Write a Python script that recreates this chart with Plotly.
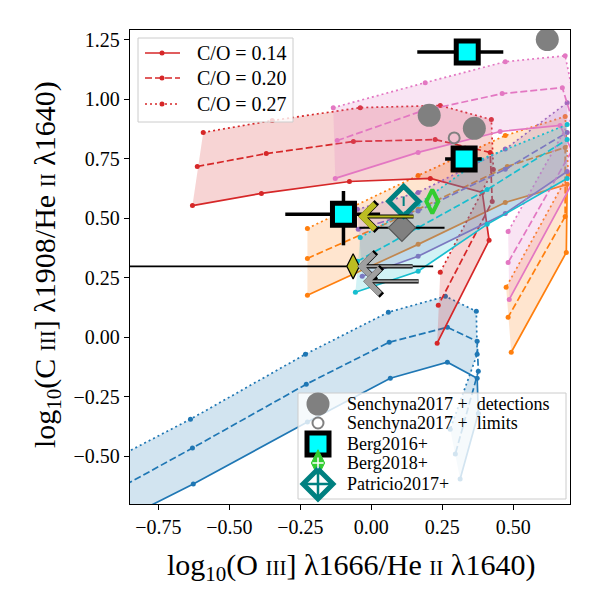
import plotly.graph_objects as go

# ---------------- model grids ----------------
# x = log10(OIII]1666/HeII1640), y = log10(CIII]1908/HeII1640)
# sol: C/O=0.14, dsh: C/O=0.20, dot: C/O=0.27
blue_sol_x = [-1.05, -0.627, -0.225, 0.067, 0.268, 0.373, 0.377, 0.313]
blue_sol_y = [-0.87, -0.616, -0.356, -0.172, -0.105, -0.172, -0.320, -0.595]
blue_dsh_x = [-1.05, -0.630, -0.229, 0.063, 0.268, 0.373, 0.377, 0.296]
blue_dsh_y = [-0.74, -0.465, -0.197, -0.021, 0.042, -0.017, -0.143, -0.490]
blue_dot_x = [-1.05, -0.637, -0.232, 0.060, 0.261, 0.370, 0.373, 0.278]
blue_dot_y = [-0.60, -0.344, -0.071, 0.105, 0.172, 0.109, -0.071, -0.386]

orange_sol_x = [-0.225, 0.165, 0.472, 0.690, 0.687, 0.493]
orange_sol_y = [0.176, 0.390, 0.566, 0.642, 0.356, -0.063]
orange_dsh_x = [-0.225, 0.165, 0.479, 0.683, 0.683, 0.482]
orange_dsh_y = [0.331, 0.537, 0.717, 0.797, 0.507, 0.084]
orange_dot_x = [-0.225, 0.165, 0.472, 0.683, 0.694, 0.475]
orange_dot_y = [0.457, 0.679, 0.847, 0.927, 0.683, 0.210]

red_sol_x = [-0.630, -0.387, -0.077, 0.208, 0.391, 0.415, 0.232]
red_sol_y = [0.553, 0.604, 0.654, 0.667, 0.608, 0.407, -0.025]
red_dsh_x = [-0.613, -0.370, -0.063, 0.225, 0.419, 0.426, 0.236]
red_dsh_y = [0.717, 0.771, 0.822, 0.830, 0.776, 0.570, 0.134]
red_dot_x = [-0.592, -0.349, -0.039, 0.243, 0.423, 0.430, 0.243]
red_dot_y = [0.860, 0.910, 0.964, 0.973, 0.914, 0.704, 0.273]

purple_sol_x = [-0.032, 0.165, 0.472, 0.690]
purple_sol_y = [0.256, 0.340, 0.520, 0.696]
purple_dsh_x = [-0.046, 0.165, 0.472, 0.690]
purple_dsh_y = [0.453, 0.530, 0.705, 0.860]
purple_dot_x = [-0.049, 0.165, 0.472, 0.690]
purple_dot_y = [0.537, 0.608, 0.790, 0.985]

pink_sol_x = [-0.127, 0.165, 0.454, 0.665, 0.736, 0.486]
pink_sol_y = [0.667, 0.776, 0.864, 0.889, 0.709, 0.159]
pink_dsh_x = [-0.120, 0.173, 0.461, 0.673, 0.729, 0.482]
pink_dsh_y = [0.826, 0.948, 1.023, 1.048, 0.830, 0.314]
pink_dot_x = [-0.134, 0.190, 0.472, 0.683, 0.722, 0.482]
pink_dot_y = [0.964, 1.069, 1.157, 1.182, 0.956, 0.444]

cyan_sol_x = [-0.056, 0.165, 0.408, 0.690]
cyan_sol_y = [0.189, 0.277, 0.474, 0.667]
cyan_dsh_x = [-0.049, 0.165, 0.408, 0.690]
cyan_dsh_y = [0.319, 0.461, 0.620, 0.830]
cyan_dot_x = [-0.039, 0.165, 0.384, 0.690]
cyan_dot_y = [0.419, 0.558, 0.746, 0.893]

# ---------------- observations ----------------
sen_det_x = [0.620, 0.204, 0.363]
sen_det_y = [1.250, 0.932, 0.877]
sen_lim_x = [0.292]
sen_lim_y = [0.837]

berg16_x = [0.338, 0.327, -0.098]
berg16_y = [1.198, 0.748, 0.516]
berg16_xerr_lo = [0.176, 0.067, 0.205]
berg16_xerr_hi = [0.127, 0.062, 0.129]
berg16_yerr_lo = [0.0, 0.0, 0.130]
berg16_yerr_hi = [0.0, 0.0, 0.098]

berg18_x = [0.215]
berg18_y = [0.570]

patricio_x = [0.114]
patricio_y = [0.571]
patricio_yerr = [0.02]

gray_d_x = [0.108]
gray_d_y = [0.460]
gray_d_xerr = [0.15]

olive_d_x = [-0.064]
olive_d_y = [0.298]
olive_d_xerr_lo = [0.95]
olive_d_xerr_hi = [0.282]

# upper-limit arrows (head position, arrow length in x)
olive_arr_x = [-0.046]
olive_arr_y = [0.507]
gray_arr_x = [-0.049, -0.028]
gray_arr_y = [0.298, 0.235]
arr_len = 0.20

co_labels = ["C/O = 0.14", "C/O = 0.20", "C/O = 0.27"]
obs_labels = ["Senchyna2017 +\u00a0\u00a0detections", "Senchyna2017 +\u00a0\u00a0limits",
              "Berg2016+", "Berg2018+", "Patricio2017+"]

# ------------------------------------------------
def rgba(h, a):
    h = h.lstrip('#')
    return "rgba(%d,%d,%d,%.2f)" % (int(h[0:2], 16), int(h[2:4], 16), int(h[4:6], 16), a)

DASH = "7px,3px"
DOT = "2px,3px"
LW = 1.7

grids = [
    ("#1f77b4", blue_sol_x, blue_sol_y, blue_dsh_x, blue_dsh_y, blue_dot_x, blue_dot_y),
    ("#ff7f0e", orange_sol_x, orange_sol_y, orange_dsh_x, orange_dsh_y, orange_dot_x, orange_dot_y),
    ("#d62728", red_sol_x, red_sol_y, red_dsh_x, red_dsh_y, red_dot_x, red_dot_y),
    ("#9467bd", purple_sol_x, purple_sol_y, purple_dsh_x, purple_dsh_y, purple_dot_x, purple_dot_y),
    ("#e377c2", pink_sol_x, pink_sol_y, pink_dsh_x, pink_dsh_y, pink_dot_x, pink_dot_y),
    ("#17becf", cyan_sol_x, cyan_sol_y, cyan_dsh_x, cyan_dsh_y, cyan_dot_x, cyan_dot_y),
]

fig = go.Figure()
for col, sx, sy, dx, dy, ox, oy in grids:
    fig.add_trace(go.Scatter(x=list(sx) + list(ox)[::-1], y=list(sy) + list(oy)[::-1],
                             fill='toself', fillcolor=rgba(col, 0.2), mode='lines',
                             line=dict(width=0), hoverinfo='skip', showlegend=False))
    for xx, yy, dsh in [(sx, sy, 'solid'), (dx, dy, DASH), (ox, oy, DOT)]:
        fig.add_trace(go.Scatter(x=xx, y=yy, mode='lines+markers',
                                 line=dict(color=col, width=LW, dash=dsh),
                                 marker=dict(color=col, size=5), showlegend=False))

# observations
fig.add_trace(go.Scatter(x=sen_det_x, y=sen_det_y, mode='markers',
                         marker=dict(symbol='circle', size=23, color='#808080'), showlegend=False))
fig.add_trace(go.Scatter(x=sen_lim_x, y=sen_lim_y, mode='markers',
                         marker=dict(symbol='circle-open', size=11, color='#808080', line=dict(width=2)),
                         showlegend=False))
fig.add_trace(go.Scatter(x=olive_d_x, y=olive_d_y, mode='markers',
                         error_x=dict(type='data', symmetric=False, array=olive_d_xerr_hi,
                                      arrayminus=olive_d_xerr_lo, color='black', thickness=1.8, width=0),
                         marker=dict(symbol='diamond-tall', size=18, color='#bcbd22',
                                     line=dict(color='black', width=1.2)), showlegend=False))
fig.add_trace(go.Scatter(x=gray_d_x, y=gray_d_y, mode='markers',
                         error_x=dict(type='data', array=gray_d_xerr, color='black', thickness=2, width=0),
                         marker=dict(symbol='diamond', size=21, color='#808080',
                                     line=dict(color='#555555', width=1.2)), showlegend=False))
fig.add_trace(go.Scatter(x=berg16_x, y=berg16_y, mode='markers',
                         error_x=dict(type='data', symmetric=False, array=berg16_xerr_hi,
                                      arrayminus=berg16_xerr_lo, color='black', thickness=3.5, width=0),
                         error_y=dict(type='data', symmetric=False, array=berg16_yerr_hi,
                                      arrayminus=berg16_yerr_lo, color='black', thickness=3.5, width=0),
                         marker=dict(symbol='square', size=22, color='cyan',
                                     line=dict(color='black', width=5)), showlegend=False))
fig.add_trace(go.Scatter(x=patricio_x, y=patricio_y, mode='markers',
                         error_y=dict(type='data', array=patricio_yerr, color='#008080', thickness=2, width=0),
                         marker=dict(symbol='diamond-open', size=23, color='#008080',
                                     line=dict(width=5)), showlegend=False))
fig.add_trace(go.Scatter(x=berg18_x, y=berg18_y, mode='markers',
                         marker=dict(symbol='diamond-tall-open', size=17, color='#32cd32',
                                     line=dict(width=4)), showlegend=False))

annotations = []
for hx, hy, col in ([(a, b, '#bcbd22') for a, b in zip(olive_arr_x, olive_arr_y)] +
                    [(a, b, '#a0a0a0') for a, b in zip(gray_arr_x, gray_arr_y)]):
    for w, s, c in [(4.2, 1.3, 'black'), (2.0, 2.45, col)]:
        annotations.append(dict(x=hx, y=hy, ax=hx + arr_len, ay=hy, xref='x', yref='y',
                                axref='x', ayref='y', showarrow=True, arrowhead=4,
                                arrowwidth=w, arrowsize=s, arrowcolor=c, text=''))

# ---------------- manual legends (overlay axes in plot fractions) ----------------
X0, X1, Y0, Y1 = 130.0, 570.0, 30.0, 504.0
def fx(p):
    return (p - X0) / (X1 - X0)
def fy(p):
    return (Y1 - p) / (Y1 - Y0)

def leg_box(px0, px1, py0, py1):
    fig.add_trace(go.Scatter(x=[fx(px0), fx(px1), fx(px1), fx(px0), fx(px0)],
                             y=[fy(py0), fy(py0), fy(py1), fy(py1), fy(py0)],
                             fill='toself', fillcolor='rgba(255,255,255,0.8)', mode='lines',
                             line=dict(color='#cccccc', width=1), xaxis='x2', yaxis='y2',
                             hoverinfo='skip', showlegend=False))

LEGFONT = dict(family='Liberation Serif', size=18, color='black')
LEGFONT1 = dict(family='Liberation Serif', size=20, color='black')

leg_box(138, 293, 38, 122)
for lab, dsh, py in zip(co_labels, ['solid', DASH, DOT], [53, 78, 104]):
    fig.add_trace(go.Scatter(x=[fx(145), fx(162), fx(180)], y=[fy(py)] * 3, mode='lines',
                             line=dict(color='#d62728', width=LW, dash=dsh),
                             xaxis='x2', yaxis='y2', showlegend=False))
    fig.add_trace(go.Scatter(x=[fx(162)], y=[fy(py)], mode='markers',
                             marker=dict(color='#d62728', size=5), xaxis='x2', yaxis='y2',
                             showlegend=False))
    annotations.append(dict(x=fx(195), y=fy(py), xref='paper', yref='paper', text=lab,
                            showarrow=False, xanchor='left', yanchor='middle', font=LEGFONT1))

leg_box(298, 566, 393, 499)
rows = [404, 423, 444, 463, 484]
mk = fx(318)
leg_markers = [
    dict(symbol='circle', size=23, color='#808080'),
    dict(symbol='circle-open', size=11, color='#808080', line=dict(width=2)),
    dict(symbol='square', size=22, color='cyan', line=dict(color='black', width=5)),
    dict(symbol='diamond-tall', size=19, color='#32cd32', line=dict(color='#32cd32', width=1)),
    dict(symbol='diamond-open', size=23, color='#008080', line=dict(width=5)),
]
for m, py in zip(leg_markers, rows):
    fig.add_trace(go.Scatter(x=[mk], y=[fy(py)], mode='markers', marker=m,
                             xaxis='x2', yaxis='y2', showlegend=False))
fig.add_trace(go.Scatter(x=[mk], y=[fy(463)], mode='markers',
                         marker=dict(symbol='cross-thin', size=8, line=dict(color='white', width=1.5)),
                         xaxis='x2', yaxis='y2', showlegend=False))
fig.add_trace(go.Scatter(x=[mk], y=[fy(484)], mode='markers',
                         marker=dict(symbol='cross-thin', size=22, line=dict(color='#008080', width=2.5)),
                         xaxis='x2', yaxis='y2', showlegend=False))
for lab, py in zip(obs_labels, rows):
    annotations.append(dict(x=fx(345), y=fy(py), xref='paper', yref='paper', text=lab,
                            showarrow=False, xanchor='left', yanchor='middle', font=LEGFONT))

# axis titles
sc = "<span style='font-size:21px'>%s</span>"
xtitle = "log<sub>10</sub>(O " + sc % "III" + "] λ1666/He " + sc % "II" + " λ1640)"
ytitle = "log<sub>10</sub>(C " + sc % "III" + "] λ1908/He " + sc % "II" + " λ1640)"
TFONT = dict(family='Liberation Serif', size=30, color='black')
annotations.append(dict(x=fx(351), y=fy(567), xref='paper', yref='paper', text=xtitle,
                        showarrow=False, xanchor='center', yanchor='middle', font=TFONT))
annotations.append(dict(x=fx(47), y=fy(265), xref='paper', yref='paper', text=ytitle,
                        showarrow=False, xanchor='center', yanchor='middle', font=TFONT,
                        textangle=-90))

TICKFONT = dict(family='Liberation Serif', size=20, color='black')
fig.update_layout(
    width=600, height=600,
    margin=dict(l=130, r=30, t=30, b=96),
    paper_bgcolor='white', plot_bgcolor='white',
    showlegend=False,
    xaxis=dict(range=[-0.85, 0.70], tickvals=[-0.75, -0.5, -0.25, 0, 0.25, 0.5],
               ticktext=["−0.75", "−0.50", "−0.25", "0.00", "0.25", "0.50"],
               ticks='outside', ticklen=5, tickwidth=1.2, tickcolor='black',
               showline=True, mirror=True, linecolor='black', linewidth=1.3,
               showgrid=False, zeroline=False, tickfont=TICKFONT),
    yaxis=dict(range=[-0.70, 1.29], tickvals=[-0.5, -0.25, 0, 0.25, 0.5, 0.75, 1.0, 1.25],
               ticktext=["−0.50", "−0.25", "0.00", "0.25", "0.50", "0.75", "1.00", "1.25"],
               ticks='outside', ticklen=5, tickwidth=1.2, tickcolor='black',
               showline=True, mirror=True, linecolor='black', linewidth=1.3,
               showgrid=False, zeroline=False, tickfont=TICKFONT),
    xaxis2=dict(overlaying='x', range=[0, 1], visible=False, anchor='y2'),
    yaxis2=dict(overlaying='y', range=[0, 1], visible=False, anchor='x2'),
    annotations=annotations,
)

fig.write_html("out.html")
